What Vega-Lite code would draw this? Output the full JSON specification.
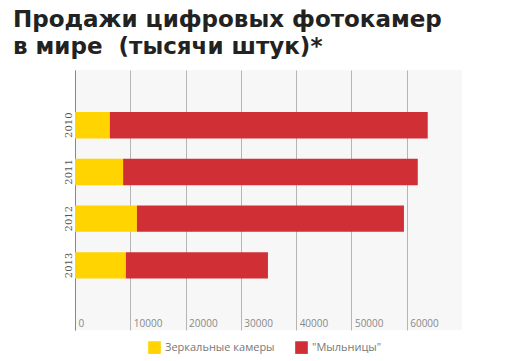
{
  "$schema": "https://vega.github.io/schema/vega-lite/v6.json",
  "width": 387,
  "height": 260,
  "autosize": {"type": "none"},
  "padding": {"left": 75, "top": 70, "right": 67, "bottom": 31},
  "background": "white",
  "title": {
    "text": ["Продажи цифровых фотокамер", "в мире \u00a0(тысячи штук)*"],
    "anchor": "start",
    "frame": "group",
    "dx": -62,
    "offset": 11,
    "font": "DejaVu Sans",
    "fontWeight": "bold",
    "fontSize": 23,
    "lineHeight": 27,
    "color": "#222222"
  },
  "data": {
    "values": [
      {"year": "2010", "type": "Зеркальные камеры", "value": 6300},
      {"year": "2010", "type": "\"Мыльницы\"", "value": 57500},
      {"year": "2011", "type": "Зеркальные камеры", "value": 8700},
      {"year": "2011", "type": "\"Мыльницы\"", "value": 53300},
      {"year": "2012", "type": "Зеркальные камеры", "value": 11200},
      {"year": "2012", "type": "\"Мыльницы\"", "value": 48300},
      {"year": "2013", "type": "Зеркальные камеры", "value": 9200},
      {"year": "2013", "type": "\"Мыльницы\"", "value": 25700}
    ]
  },
  "mark": {"type": "bar"},
  "encoding": {
    "y": {
      "field": "year",
      "type": "nominal",
      "sort": ["2010", "2011", "2012", "2013"],
      "scale": {"paddingInner": 0.436, "paddingOuter": 1.15, "align": 0.45},
      "axis": {
        "title": null,
        "ticks": false,
        "domain": true,
        "domainColor": "#888888",
        "labelAngle": 270,
        "labelAlign": "center",
        "labelBaseline": "bottom",
        "labelPadding": 2,
        "labelFont": "DejaVu Serif",
        "labelFontSize": 10,
        "labelColor": "#555555",
        "grid": false
      }
    },
    "x": {
      "field": "value",
      "type": "quantitative",
      "stack": "zero",
      "scale": {"domain": [0, 70000], "nice": false},
      "axis": {
        "title": null,
        "values": [0, 10000, 20000, 30000, 40000, 50000, 60000],
        "format": "d",
        "domain": false,
        "ticks": false,
        "grid": true,
        "gridColor": "#b5b5b5",
        "gridWidth": 1,
        "labelAlign": "left",
        "labelBaseline": "bottom",
        "labelPadding": -2,
        "labelOffset": 3,
        "labelFont": "Open Sans",
        "labelFontSize": 10,
        "labelColor": "#888888",
        "labelFlush": false
      }
    },
    "color": {
      "field": "type",
      "type": "nominal",
      "scale": {"domain": ["Зеркальные камеры", "\"Мыльницы\""], "range": ["#FFD400", "#D03035"]},
      "legend": {
        "title": null,
        "orient": "none",
        "legendX": 73,
        "legendY": 271,
        "direction": "horizontal",
        "symbolType": "square",
        "symbolSize": 160,
        "symbolStrokeWidth": 0,
        "labelFont": "Open Sans",
        "labelFontSize": 11,
        "labelColor": "#777777",
        "columnPadding": 20
      }
    },
    "order": {"field": "type", "sort": "descending"}
  },
  "config": {
    "view": {"fill": "#f7f7f7", "stroke": null}
  }
}
